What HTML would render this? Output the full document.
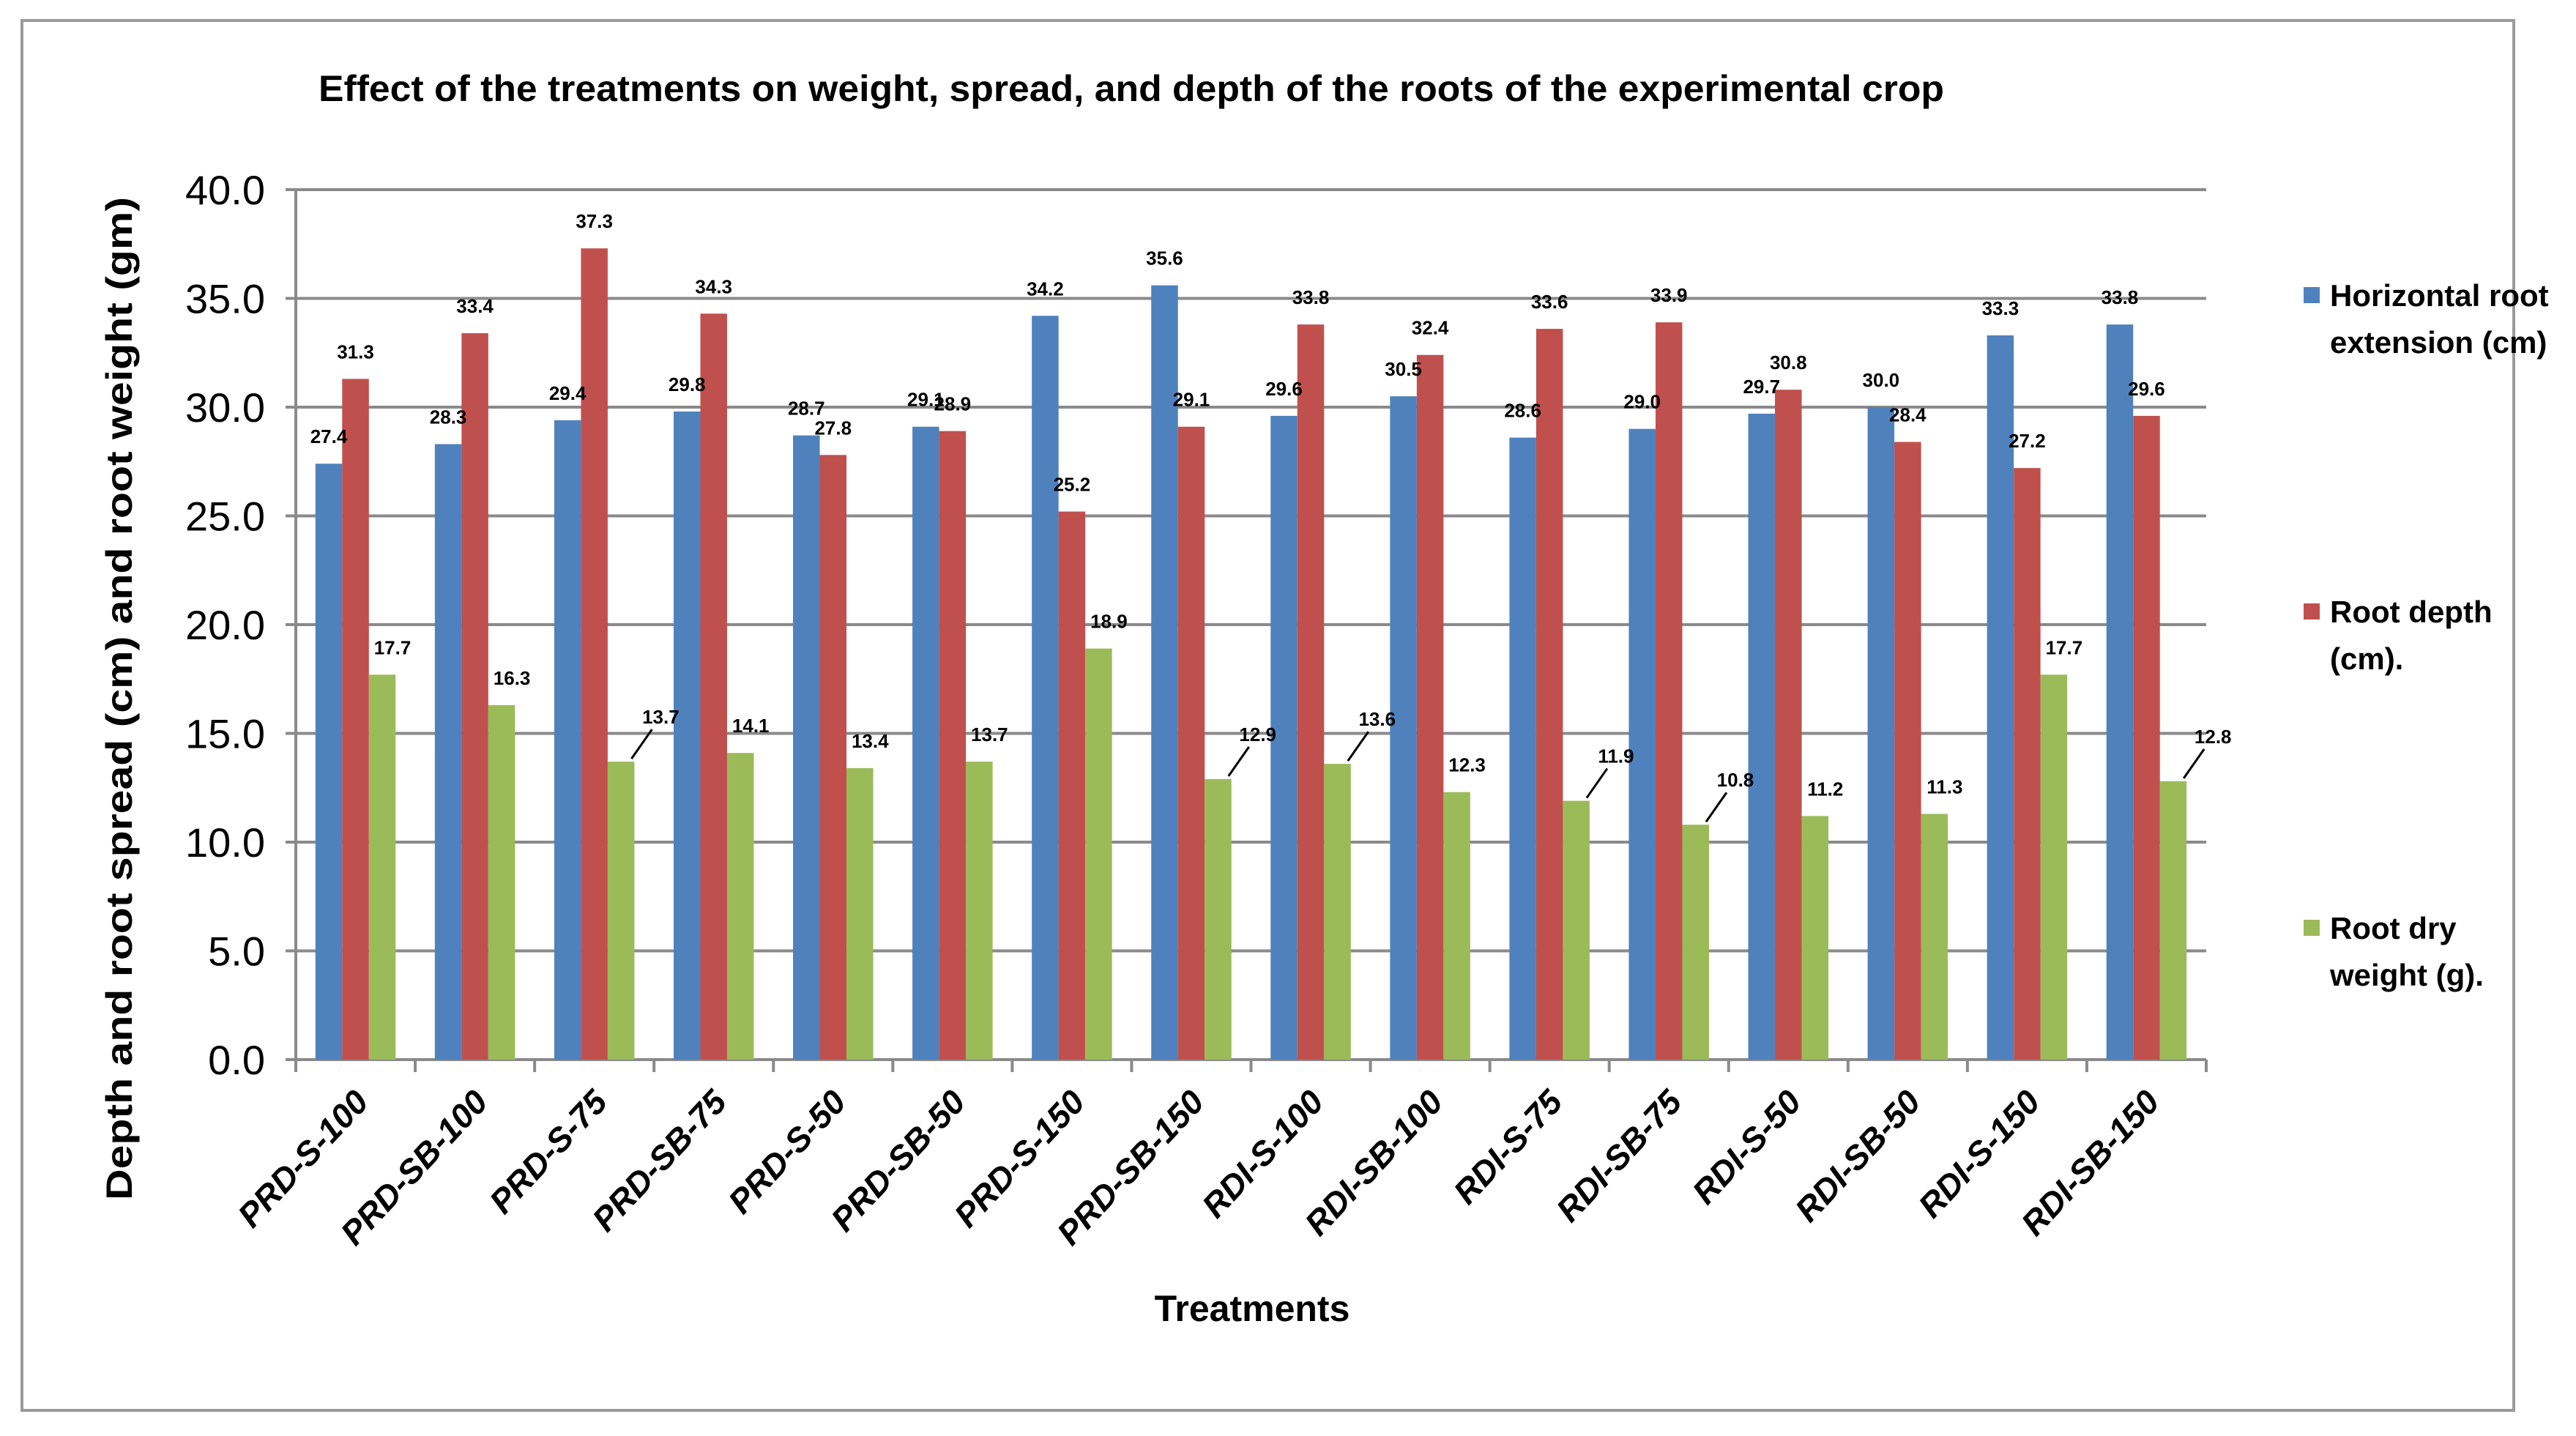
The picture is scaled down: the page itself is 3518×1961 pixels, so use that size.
<!DOCTYPE html>
<html><head><meta charset="utf-8"><style>
html,body{margin:0;padding:0;background:#fff}
svg{display:block}
text{font-family:"Liberation Sans",sans-serif}
</style></head><body>
<svg id="chart" width="3518" height="1961" viewBox="0 0 3518 1961" xmlns="http://www.w3.org/2000/svg">
<rect x="30" y="28" width="3403" height="1898" fill="#fff" stroke="#9a9a9a" stroke-width="4"/>
<text x="1545" y="138" text-anchor="middle" font-size="50" font-weight="bold" textLength="2220" lengthAdjust="spacingAndGlyphs">Effect of the treatments on weight, spread, and depth of the roots of the experimental crop</text>
<text transform="translate(180,954) rotate(-90)" text-anchor="middle" font-size="50" font-weight="bold" textLength="1370" lengthAdjust="spacingAndGlyphs">Depth and root spread (cm) and root weight (gm)</text>
<text x="1710" y="1804" text-anchor="middle" font-size="50" font-weight="bold">Treatments</text>
<g id="grid"></g><g id="bars"></g><g id="labels"></g><g id="xlabels"></g>
<g>
<rect x="3146" y="392" width="22" height="22" fill="#4F81BD"/>
<text x="3182" y="418" font-size="42" font-weight="bold"><tspan x="3182">Horizontal root</tspan><tspan x="3182" dy="64">extension (cm)</tspan></text>
<rect x="3146" y="824" width="22" height="22" fill="#C0504D"/>
<text x="3182" y="850" font-size="42" font-weight="bold"><tspan x="3182">Root depth</tspan><tspan x="3182" dy="64">(cm).</tspan></text>
<rect x="3146" y="1256" width="22" height="22" fill="#9BBB59"/>
<text x="3182" y="1282" font-size="42" font-weight="bold"><tspan x="3182">Root dry</tspan><tspan x="3182" dy="64">weight (g).</tspan></text>
</g>
</svg>
<script>
const categories=["PRD-S-100","PRD-SB-100","PRD-S-75","PRD-SB-75","PRD-S-50","PRD-SB-50","PRD-S-150","PRD-SB-150","RDI-S-100","RDI-SB-100","RDI-S-75","RDI-SB-75","RDI-S-50","RDI-SB-50","RDI-S-150","RDI-SB-150"];
const horizontal=[27.4,28.3,29.4,29.8,28.7,29.1,34.2,35.6,29.6,30.5,28.6,29.0,29.7,30.0,33.3,33.8];
const depth=[31.3,33.4,37.3,34.3,27.8,28.9,25.2,29.1,33.8,32.4,33.6,33.9,30.8,28.4,27.2,29.6];
const weight=[17.7,16.3,13.7,14.1,13.4,13.7,18.9,12.9,13.6,12.3,11.9,10.8,11.2,11.3,17.7,12.8];
const yTicks=[0,5,10,15,20,25,30,35,40];
const leader=[false,false,true,false,false,false,false,true,true,false,true,true,false,false,false,true];
const NS="http://www.w3.org/2000/svg";
const X0=404,X1=3013,Y0=1447,Y1=259,YMAX=40;
const cw=(X1-X0)/categories.length,bw=36.5;
function y(v){return Y0-(v/YMAX)*(Y0-Y1);}
function xc(i){return X0+cw*i+cw/2;}
function mk(tag,attrs,parent){const e=document.createElementNS(NS,tag);for(const k in attrs)e.setAttribute(k,attrs[k]);parent.appendChild(e);return e;}
const grid=document.getElementById('grid'),bars=document.getElementById('bars'),labels=document.getElementById('labels'),xl=document.getElementById('xlabels');
yTicks.forEach(t=>{
  const l=mk('line',{x1:X0-14,x2:X1,y1:y(t),y2:y(t),stroke:'#8a8a8a','stroke-width':4},grid);
  
  
  const tx=mk('text',{x:362,y:y(t)+20,'text-anchor':'end','font-size':56},grid);
  tx.textContent=t.toFixed(1);
  
  
});
const ax=mk('line',{x1:X0,x2:X0,y1:Y1,y2:Y0,stroke:'#8a8a8a','stroke-width':4},grid);


for(let i=0;i<=categories.length;i++){
  const tk=mk('line',{x1:X0+cw*i,x2:X0+cw*i,y1:Y0,y2:Y0+17,stroke:'#8a8a8a','stroke-width':4},grid);
  
  
}
const series=[[horizontal,'#4F81BD','horizontal'],[depth,'#C0504D','depth'],[weight,'#9BBB59','weight']];
categories.forEach((c,i)=>{
  series.forEach((s,j)=>{
    const v=s[0][i];
    const bx=xc(i)-1.5*bw+j*bw;
    const r=mk('rect',{x:bx,y:y(v),width:bw,height:Y0-y(v),fill:s[1]},bars);
    
    
    let lx=bx+bw/2,ly=y(v)-28;
    if(j===2){lx+=14;}
    if(j===2&&leader[i]){
      lx=bx+bw+36;ly=y(v)-52;
      const ln=mk('line',{x1:bx+bw-4,y1:y(v)-4,x2:lx-12,y2:ly+8,stroke:'#000','stroke-width':3},labels);
      
      
    }
    const t=mk('text',{x:lx,y:ly,'text-anchor':'middle','font-size':26,'font-weight':'bold'},labels);
    t.textContent=v.toFixed(1);
    
    
  });
  const t=mk('text',{transform:'translate('+(xc(i)+20)+','+(Y0+60)+') rotate(-47)','text-anchor':'end','font-size':46,'font-weight':'bold','font-style':'italic'},xl);
  t.textContent=c;
  
  
});
</script>
</body></html>
